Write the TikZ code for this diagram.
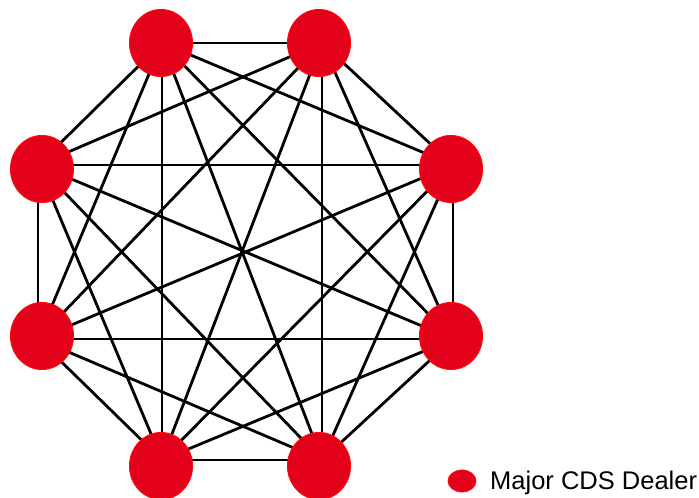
\documentclass[tikz,border=0pt]{standalone}
\usepackage{fontspec}
\setmainfont{Liberation Sans}
\usetikzlibrary{shapes.geometric}
\definecolor{dealer}{RGB}{226,0,26}
\definecolor{dealerrim}{RGB}{255,10,10}
\begin{document}
\begin{tikzpicture}[x=1pt,y=1pt,
  dealernode/.style={ellipse,fill=dealer,draw=dealerrim,line width=1pt,minimum width=63pt,minimum height=67pt,inner sep=0pt},
  link/.style={line width=2.8pt,black},
  legenddot/.style={ellipse,fill=dealer,draw=dealerrim,line width=0.8pt,minimum width=28pt,minimum height=22pt,inner sep=0pt}]
\useasboundingbox (0,0) rectangle (699,498);
% connector end points
\coordinate (p1) at (162,455);
\coordinate (p2) at (322,455);
\coordinate (p3) at (453,333);
\coordinate (p4) at (453,159);
\coordinate (p5) at (322,38);
\coordinate (p6) at (162,38);
\coordinate (p7) at (38,159);
\coordinate (p8) at (38,333);
% node centres
\coordinate (c1) at (161,455);
\coordinate (c2) at (319,455);
\coordinate (c3) at (451,329);
\coordinate (c4) at (451,162);
\coordinate (c5) at (319,32);
\coordinate (c6) at (161,32);
\coordinate (c7) at (42,162);
\coordinate (c8) at (42,329);
\foreach \i in {1,...,8}{
  \foreach \j in {1,...,8}{
    \ifnum\i<\j \draw[link] (p\i) -- (p\j); \fi
  }
}
\foreach \i in {1,...,8}{
  \node[dealernode] (n\i) at (c\i) {};
}
\node[legenddot] (leg) at (462,17) {};
\node[anchor=base west,inner sep=0pt,font=\fontsize{25.5}{30}\selectfont] (legtext) at (490,8) {Major CDS Dealer};
\end{tikzpicture}
\end{document}
